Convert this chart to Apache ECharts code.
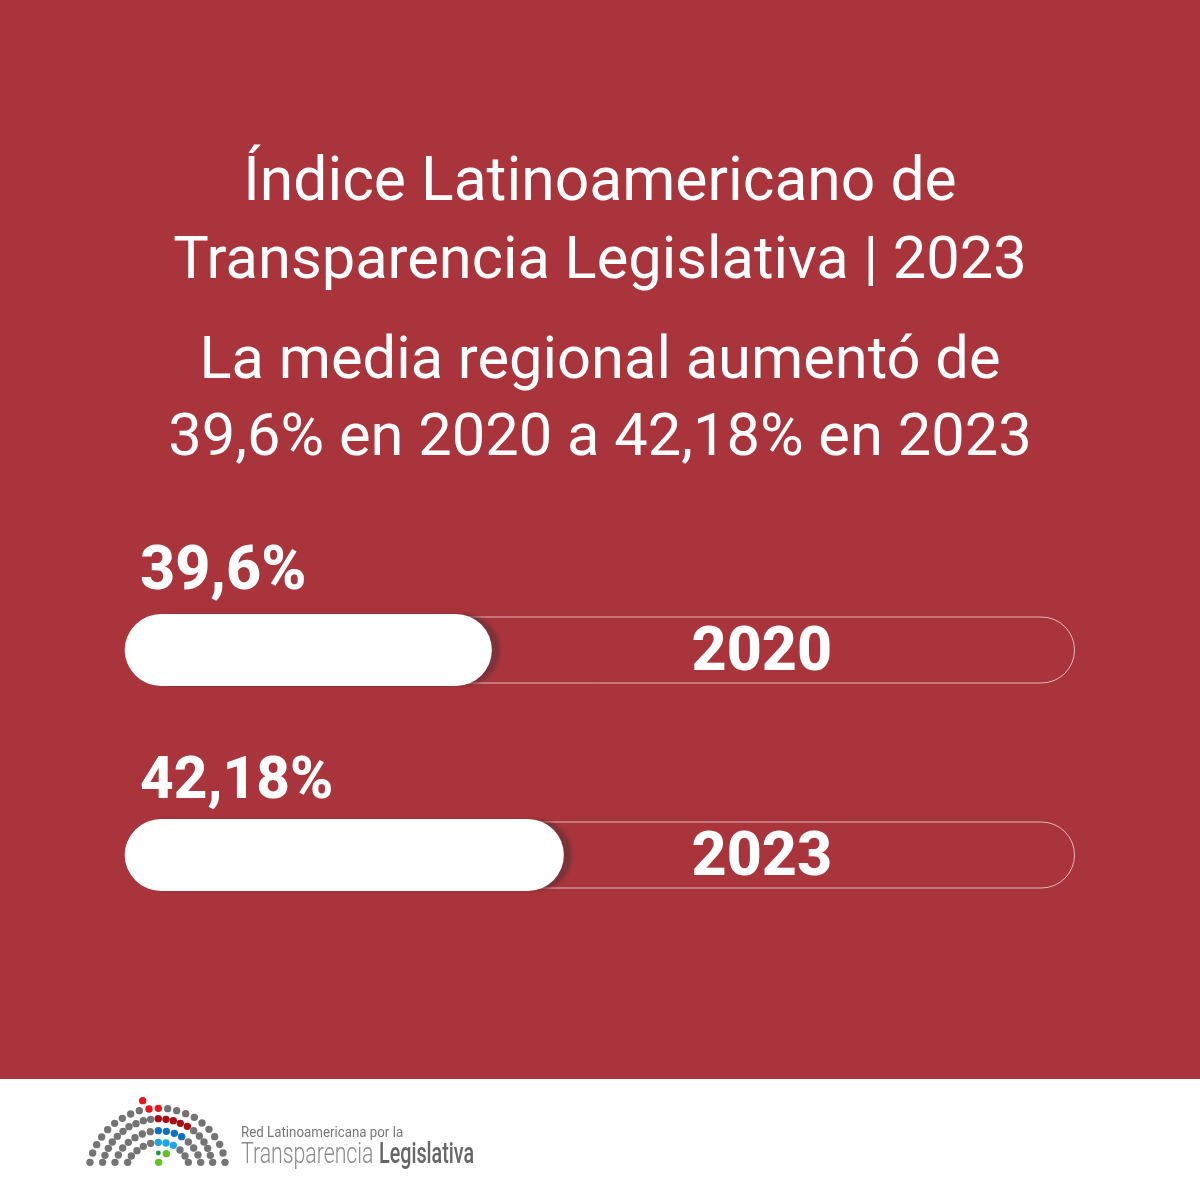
<!DOCTYPE html>
<html><head><meta charset="utf-8">
<style>html,body{margin:0;padding:0;background:#a9343b}#c{width:1200px;height:1200px}</style>
<script src="https://cdn.jsdelivr.net/npm/echarts@6/dist/echarts.min.js"></script>
</head><body><div id="c"></div>
<script>
const years = ['2020', '2023'];
const media = [39.6, 42.18];
const mediaLabels = ['39,6%', '42,18%'];
const titleLines = ['Índice Latinoamericano de', 'Transparencia Legislativa | 2023', 'La media regional aumentó de', '39,6% en 2020 a 42,18% en 2023'];
const titleBaselines = [215, 293, 393, 470];
const titleSizes = [60.6, 59.6, 59.6, 59.6];
const labelLifts = [-71, -65];
const labelSizes = [61, 58.5];
const axisMin = 26.45, axisMax = 60.5;

// logo dots, in the logo's own coordinates
const logoGray = [[60,232],[68,204],[80,179],[95,156],[113,134],[134,115],[157,100],[182,87],[208,77],[293,71],[320,77],[347,86],[373,97],[396,114],[417,133],[434,155],[449,178],[459,204],[465,232],
[98,232],[105,211],[115,190],[127,171],[142,154],[159,139],[177,125],[198,116],[220,107],[242,103],[371,137],[388,153],[402,171],[413,190],[421,211],[428,232],
[135,232],[145,210],[158,189],[175,172],[195,158],[217,147],[241,140],[355,171],[371,189],[384,210],[392,232],
[173,232],[184,213],[201,197],[220,184],[242,175],[330,195],[345,213],[355,232]];
const logoRed = [[218,47],[237,72],[265,70]];
const logoDark = [[265,101],[288,103],[310,107],[331,115],[352,124]];
const logoBlue = [[265,137],[289,139],[313,145],[335,155]];
const logoSky = [[265,172],[288,174],[310,181]];
const logoGreen = [[289,206],[266,232]];
const logoDeep = [[265,204]];

function dots(list, color, r) {
  return list.map(p => ({type:'circle', silent:true, z:5,
    shape:{cx:70+p[0]/3, cy:1085+p[1]/3, r:r}, style:{fill:color}}));
}
function logoText(text, x, y, sx, fill, font) {
  return {type:'text', silent:true, z:5, x:x, y:y, scaleX:sx, scaleY:1,
    style:{text:text, x:0, y:0, textVerticalAlign:'middle', fill:fill, font:font}};
}
const FONT = 'Roboto, sans-serif';
const chart = echarts.init(document.getElementById('c'), null, {renderer:'canvas', width:1200, height:1200});
chart.setOption({
  backgroundColor:'#a9343b',
  animation:false,
  graphic:[
    {type:'rect', silent:true, z:0, shape:{x:0,y:1079,width:1200,height:121}, style:{fill:'#ffffff'}},
    ...titleLines.map((t,i)=>({type:'text', silent:true, z:5, style:{text:t, x:600, y:titleBaselines[i], textAlign:'center', textVerticalAlign:'bottom', fill:'#fff', font:'400 '+titleSizes[i]+'px '+FONT}})),
    ...dots(logoGray,'#747474',3.7), ...dots(logoRed,'#e8141c',3.7), ...dots(logoDark,'#a80d14',3.7),
    ...dots(logoBlue,'#0f6fc0',3.7), ...dots(logoSky,'#1ea5e6',3.7), ...dots(logoGreen,'#62c21e',3.7), ...dots(logoDeep,'#1f9a3a',2.4),
    logoText('Red Latinoamericana por la', 241, 1133, 0.887, '#777', '15px '+FONT),
    logoText('Transparencia', 241, 1156, 0.733, '#8a8a8a', '300 29px '+FONT),
    logoText('Legislativa', 379, 1156, 0.68, '#666', '500 29px '+FONT)
  ],
  grid:{left:125, width:950, top:547.5, height:410, containLabel:false},
  xAxis:{type:'value', min:axisMin, max:axisMax, show:false},
  yAxis:[
    {type:'category', data:years, inverse:true, show:false},
    {type:'category', data:years, inverse:true, show:false}
  ],
  series:[
    {type:'bar', name:'escala', yAxisIndex:1, barWidth:67, z:2, silent:true,
     data:years.map(()=>axisMax),
     itemStyle:{color:'rgba(0,0,0,0)', borderColor:'rgba(255,255,255,0.65)', borderWidth:1, borderRadius:33},
     label:{show:true, position:[567,8], formatter:'{b}', color:'#fff', fontFamily:'Roboto', fontWeight:800, fontSize:61}},
    {type:'bar', name:'media', yAxisIndex:0, barWidth:72, z:3, silent:true,
     data:media.map((v,i)=>({value:v, label:{position:[15,labelLifts[i]], fontSize:labelSizes[i]}})),
     itemStyle:{color:'#fff', borderRadius:36, shadowColor:'rgba(90,50,55,0.55)', shadowBlur:3, shadowOffsetX:8},
     label:{show:true, formatter:p=>mediaLabels[p.dataIndex], color:'#fff', fontFamily:'Roboto', fontWeight:800}}
  ]
});
</script></body></html>
